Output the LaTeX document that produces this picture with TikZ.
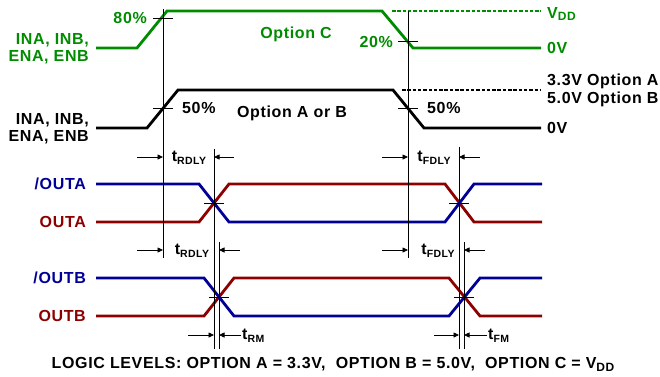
\documentclass[tikz,border=0pt]{standalone}
\usepackage{fontspec}
\setmainfont{Liberation Sans}[LetterSpace=4]
\usetikzlibrary{arrows.meta}
\definecolor{grn}{RGB}{0,140,0}
\definecolor{nvy}{RGB}{0,0,150}
\definecolor{drd}{RGB}{140,0,0}
\newcommand\subtxt[1]{\raisebox{-0.3ex}{\fontsize{10.5}{11}\selectfont #1}}
\newcommand\subvdd[1]{\raisebox{-0.35ex}{\fontsize{12}{12}\selectfont #1}}
\begin{document}
\begin{tikzpicture}[x=1pt,y=-1pt,
 wave/.style={line width=2.8pt, line join=miter},
 guide/.style={line width=0.8pt},
 tickmark/.style={line width=0.8pt},
 lvl/.style={line width=2pt, dash pattern=on 3.5pt off 1.8pt},
 lbl/.style={font=\bfseries\fontsize{16}{17}\selectfont, inner sep=0pt},
 dimarrow/.style={line width=0.8pt, -{Triangle[length=5.5pt,width=5pt]}},
]
\useasboundingbox[fill=white] (0,0) rectangle (660,376);

% input waveforms
\draw[wave,grn] (96,48) -- (137,48) -- (167,11) -- (382,11) -- (413,48) -- (541,48);
\draw[lvl,grn] (392,11) -- (541,11);
\draw[wave,black] (96,128) -- (147,128) -- (178,90) -- (393,90) -- (424,128) -- (541,128);
\draw[lvl] (402,90) -- (541,90);

% output A
\draw[wave,drd] (96,222) -- (199,222) -- (229,184) -- (445,184) -- (474,222) -- (542,222);
\draw[wave,nvy] (96,184) -- (199,184) -- (229,222) -- (445,222) -- (474,184) -- (542,184);
% output B
\draw[wave,drd] (96,316) -- (204,316) -- (234,278) -- (449,278) -- (480,316) -- (542,316);
\draw[wave,nvy] (96,278) -- (204,278) -- (234,316) -- (449,316) -- (480,278) -- (542,278);

% guides
\coordinate (g1t) at (163,9);   \coordinate (g1b) at (163,258);
\coordinate (g2t) at (408,11);  \coordinate (g2b) at (408,258);
\coordinate (g3t) at (214,149); \coordinate (g3b) at (214,349);
\coordinate (g4t) at (219,242); \coordinate (g4b) at (219,349);
\coordinate (g5t) at (459,147); \coordinate (g5b) at (459,349);
\coordinate (g6t) at (464,242); \coordinate (g6b) at (464,349);
\draw[guide] (g1t) -- (g1b);
\draw[guide] (g2t) -- (g2b);
\draw[guide] (g3t) -- (g3b);
\draw[guide] (g4t) -- (g4b);
\draw[guide] (g5t) -- (g5b);
\draw[guide] (g6t) -- (g6b);

% ticks
\draw[tickmark] (153,18) -- (173,18);
\draw[tickmark] (153,108) -- (173,108);
\draw[tickmark] (398,41) -- (418,41);
\draw[tickmark] (398,108) -- (418,108);
\draw[tickmark] (204,203) -- (224,203);
\draw[tickmark] (449,203) -- (469,203);
\draw[tickmark] (209,297) -- (229,297);
\draw[tickmark] (454,297) -- (474,297);

% dimension arrows
\draw[dimarrow] (137,157) -- (163,157);
\draw[dimarrow] (234,157) -- (214,157);
\draw[dimarrow] (137,250) -- (163,250);
\draw[dimarrow] (240,250) -- (219,250);
\draw[dimarrow] (382,157) -- (408,157);
\draw[dimarrow] (480,157) -- (459,157);
\draw[dimarrow] (382,250) -- (408,250);
\draw[dimarrow] (485,250) -- (464,250);
\draw[dimarrow] (188,335) -- (214,335);
\draw[dimarrow] (241,335) -- (219,335);
\draw[dimarrow] (434,335) -- (459,335);
\draw[dimarrow] (487,335) -- (464,335);

% labels
\node[lbl,grn,anchor=east,align=right] (ginl) at (89,49) {INA, INB,\\ENA, ENB};
\node[lbl,anchor=east,align=right] (binl) at (89,129) {INA, INB,\\ENA, ENB};
\node[lbl,grn,anchor=east] (p80) at (147,18) {80\%};
\node[lbl,anchor=west] (p50a) at (182,108) {50\%};
\node[lbl,grn,anchor=east] (p20) at (393,42) {20\%};
\node[lbl,anchor=west] (p50b) at (427,108) {50\%};
\node[lbl,grn] (optc) at (296,34) {Option C};
\node[lbl] (optab) at (292,113) {Option A or B};
\node[lbl,grn,anchor=west] (vdd) at (547,14) {V\subvdd{DD}};
\node[lbl,grn,anchor=west] (g0v) at (547,48) {0V};
\node[lbl,anchor=west] (v33) at (547,81) {3.3V Option A};
\node[lbl,anchor=west] (v50) at (547,99) {5.0V Option B};
\node[lbl,anchor=west] (b0v) at (547,128) {0V};
\node[lbl,nvy,anchor=east] (noa) at (86,184) {/OUTA};
\node[lbl,drd,anchor=east] (oa) at (86,222) {OUTA};
\node[lbl,nvy,anchor=east] (nob) at (86,278) {/OUTB};
\node[lbl,drd,anchor=east] (ob) at (86,316) {OUTB};
\node[lbl] (trd1) at (189,158) {t\subtxt{RDLY}};
\node[lbl] (trd2) at (192,251) {t\subtxt{RDLY}};
\node[lbl] (tfd1) at (434,158) {t\subtxt{FDLY}};
\node[lbl] (tfd2) at (438,251) {t\subtxt{FDLY}};
\node[lbl,anchor=west] (trm) at (242,336) {t\subtxt{RM}};
\node[lbl,anchor=west] (tfm) at (488,336) {t\subtxt{FM}};
\node[lbl] (logic) at (333,364) {LOGIC LEVELS: OPTION A = 3.3V,\ \ OPTION B = 5.0V,\ \ OPTION C = V\subvdd{DD}};
\end{tikzpicture}
\end{document}
